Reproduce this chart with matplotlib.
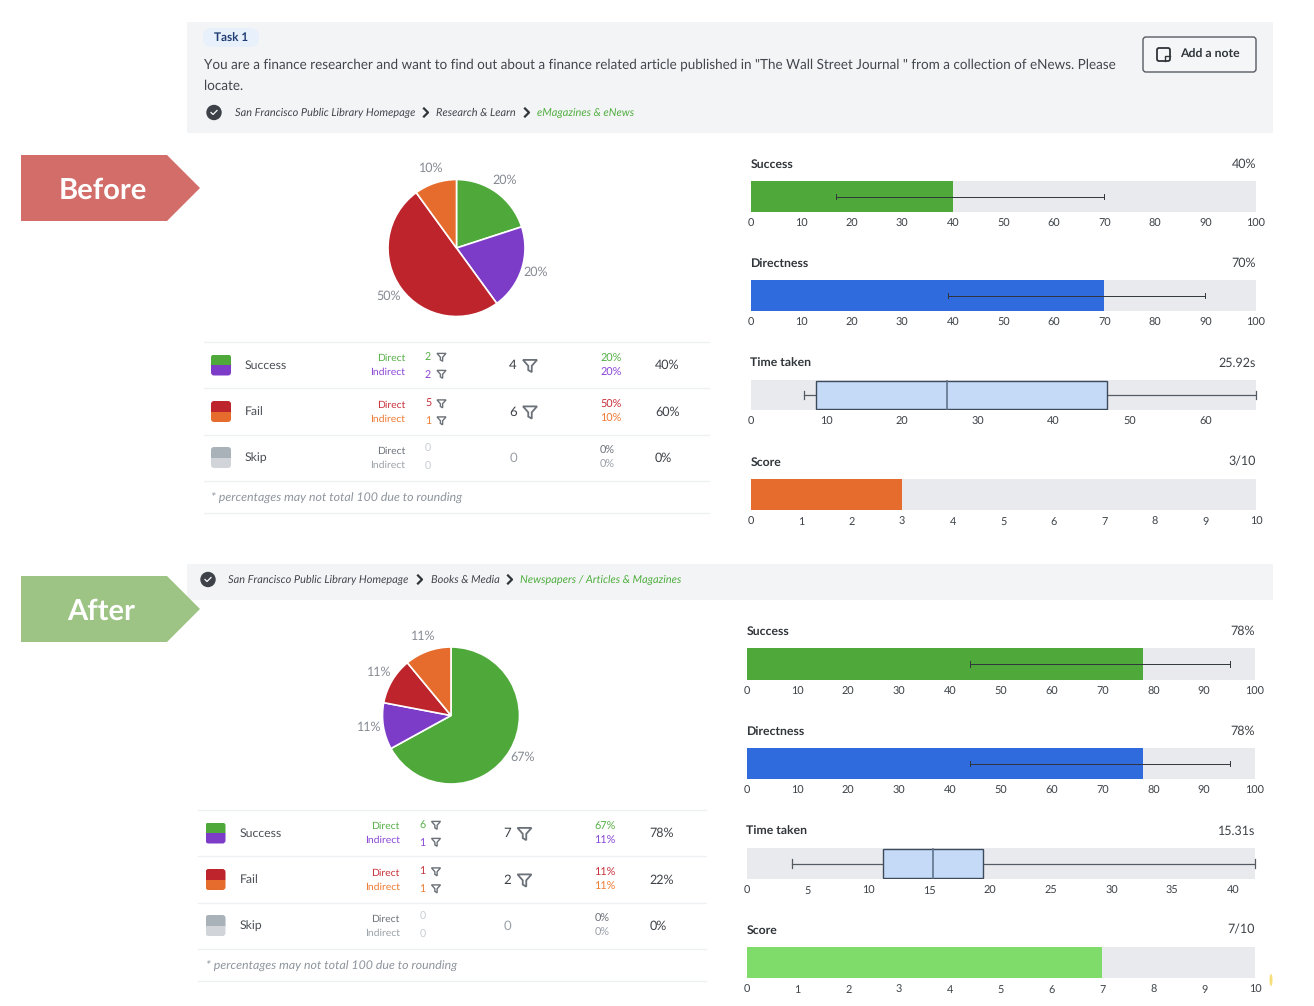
import matplotlib
matplotlib.use('Agg')
import matplotlib.pyplot as plt
from matplotlib.patches import FancyBboxPatch, Polygon, Rectangle, Circle, Ellipse

plt.rcParams['font.family'] = ['Lato', 'DejaVu Sans']
plt.rcParams['text.hinting'] = 'no_hinting'
plt.rcParams['text.hinting_factor'] = 8

W, H = 1314, 1006

# colours
GREEN = '#4fa93a'
PURPLE = '#7d3cc8'
RED = '#bd242b'
ORANGE = '#e56c2c'
BLUE = '#2f6bdc'
LIGHT_GREEN = '#7fdc6a'
TRACK = '#e9eaee'
BOX = '#c5daf7'
DARK = '#3c4248'
GREY = '#858b93'

# pies
pie_before_values = [20, 20, 50, 10]
pie_before_labels = ['20%', '20%', '50%', '10%']
pie_before_colors = [GREEN, PURPLE, RED, ORANGE]
pie_after_values = [67, 11, 11, 11]
pie_after_labels = ['67%', '11%', '11%', '11%']
pie_after_colors = [GREEN, PURPLE, RED, ORANGE]

# tables
row_names = ['Success', 'Fail', 'Skip']
before_direct = [2, 5, 0]
before_indirect = [2, 1, 0]
before_total = [4, 6, 0]
before_direct_pct = ['20%', '50%', '0%']
before_indirect_pct = ['20%', '10%', '0%']
before_total_pct = ['40%', '60%', '0%']
after_direct = [6, 1, 0]
after_indirect = [1, 1, 0]
after_total = [7, 2, 0]
after_direct_pct = ['67%', '11%', '0%']
after_indirect_pct = ['11%', '11%', '0%']
after_total_pct = ['78%', '22%', '0%']

# bar panels
before_success = 40
before_success_err = (17, 70)
before_directness = 70
before_directness_err = (39, 90)
before_score = 3
before_time = dict(low=7, q1=8.7, med=25.92, q3=47, high=66.7)
after_success = 78
after_success_err = (44, 95)
after_directness = 78
after_directness_err = (44, 95)
after_score = 7
after_time = dict(low=3.7, q1=11.2, med=15.31, q3=19.4, high=41.8)
pct_ticks = list(range(0, 101, 10))
score_ticks = list(range(0, 11))
before_time_ticks = [0, 10, 20, 30, 40, 50, 60]
after_time_ticks = [0, 5, 10, 15, 20, 25, 30, 35, 40]

fig = plt.figure(figsize=(W / 100, H / 100), dpi=100, facecolor='white')
bg = fig.add_axes([0, 0, 1, 1])
bg.set_xlim(0, W)
bg.set_ylim(H, 0)
bg.axis('off')


def px_axes(x0, y0, x1, y1):
    return fig.add_axes([x0 / W, 1 - y1 / H, (x1 - x0) / W, (y1 - y0) / H])


def rounded(x0, y0, x1, y1, r, **kw):
    p = FancyBboxPatch((x0 + r, y0 + r), x1 - x0 - 2 * r, y1 - y0 - 2 * r,
                       boxstyle=f'round,pad={r},rounding_size={r}', **kw)
    bg.add_patch(p)
    return p


def funnel(cx, cy, s, color='#6b7178'):
    # little filter icon, s is half of the width
    pts = [(cx - s, cy - s * 0.8), (cx + s, cy - s * 0.8), (cx + s * 0.25, cy + s * 0.05),
           (cx + s * 0.25, cy + s * 0.95), (cx - s * 0.25, cy + s * 0.65), (cx - s * 0.25, cy + s * 0.05)]
    bg.add_patch(Polygon(pts, closed=True, fill=False, ec=color, lw=1.3 if s > 6 else 1.0))


def chevron(x, y):
    bg.plot([x - 2, x + 2, x - 2], [y - 4, y, y + 4], color='#30353a', lw=1.6)


def check(cx, cy):
    bg.add_patch(Circle((cx, cy), 7, color=DARK))
    bg.plot([cx - 3, cx - 1, cx + 3], [cy, cy + 2, cy - 2], color='white', lw=0.9)


def arrow(y0, color, label, tx):
    y1 = y0 + 66
    bg.add_patch(Polygon([(21, y0), (167, y0), (200, y0 + 33), (167, y1), (21, y1)], color=color, lw=0))
    bg.text(tx, y0 + 35, label, color='white', fontsize=21, fontweight='bold', ha='center', va='center')


def draw_pie(cx, cy, values, labels, colors, label_pos):
    r = 68.5
    ax = px_axes(cx - r, cy - r, cx + r, cy + r)
    ax.pie(values, colors=colors, startangle=90, counterclock=False, radius=1,
           wedgeprops=dict(edgecolor='white', linewidth=1.2))
    ax.set_xlim(-1, 1)
    ax.set_ylim(-1, 1)
    for lab, (x, y) in zip(labels, label_pos):
        bg.text(x, y, lab, color=GREY, fontsize=9, ha='center', va='center')


def draw_table(dx, dy, direct, indirect, total, dpct, ipct, tpct, x0, x1, lines):
    for y in lines:
        bg.plot([x0, x1], [y, y], color='#eef0f3', lw=1)
    row_y = [365, 411.5, 457.5]
    swatch = [(GREEN, PURPLE), (RED, ORANGE), ('#a9b1b9', '#d1d5da')]
    dir_col = ['#56b046', '#c8303a', '#6b7178']
    ind_col = ['#8a45d6', '#ee7a32', '#9aa1a8']
    for i, name in enumerate(row_names):
        y = row_y[i] + dy
        clip = rounded(211 + dx, y - 10.5, 231 + dx, y + 10.5, 3, fc='none', ec='none')
        top = Rectangle((211 + dx, y - 10.5), 20, 10.5, color=swatch[i][0], lw=0)
        bot = Rectangle((211 + dx, y), 20, 10.5, color=swatch[i][1], lw=0)
        bg.add_patch(top)
        bg.add_patch(bot)
        top.set_clip_path(clip)
        bot.set_clip_path(clip)
        bg.text(245 + dx, y + 0.5, name, color='#4a4f55', fontsize=8.8, va='center')
        bg.text(405 + dx, y - 6.5, 'Direct', color=dir_col[i], fontsize=7.5, ha='right', va='center')
        bg.text(405 + dx, y + 7.5, 'Indirect', color=ind_col[i], fontsize=7.5, ha='right', va='center')
        empty = total[i] == 0
        c1 = '#c9cdd2' if empty else dir_col[i]
        c2 = '#c9cdd2' if empty else ind_col[i]
        bg.text(428 + dx, y - 8.5, str(direct[i]), color=c1, fontsize=7.7, ha='center', va='center')
        bg.text(428 + dx, y + 9.5, str(indirect[i]), color=c2, fontsize=7.7, ha='center', va='center')
        if not empty:
            funnel(441.5 + dx, y - 8, 4.5)
            funnel(441.5 + dx, y + 9, 4.5)
            funnel(530 + dx, y + 0.5, 7)
        bg.text(513 + dx, y + 0.5, str(total[i]), color='#9aa1a8' if empty else '#3c4248', fontsize=9.5,
                ha='center', va='center')
        bg.text(600 + dx, y - 6.5, dpct[i], color=dir_col[i], fontsize=7.8, va='center')
        bg.text(600 + dx, y + 7.5, ipct[i], color=ind_col[i], fontsize=7.8, va='center')
        bg.text(655 + dx, y + 0.5, tpct[i], color='#3c4248', fontsize=9, va='center')
    bg.text(211 + dx, 497.5 + dy, '* percentages may not total 100 due to rounding', color='#8e959d',
            fontsize=8.9, fontstyle='italic', va='center')


def panel_axes(x0, x1, y0, y1, title, value, xmax, ticks):
    ax = px_axes(x0, y0, x1, y1)
    ax.set_facecolor(TRACK)
    ax.set_xlim(0, xmax)
    ax.set_ylim(0, 1)
    ax.set_yticks([])
    ax.set_xticks(ticks)
    ax.set_xticklabels([str(t) for t in ticks])
    ax.tick_params(axis='x', length=0, pad=5, labelsize=7.8, labelcolor='#3c4248')
    for s in ax.spines.values():
        s.set_visible(False)
    bg.text(x0, y0 - 17, title, color='#30353a', fontsize=8.8, fontweight='bold', va='center')
    bg.text(x1, y0 - 17, value, color='#3c4248', fontsize=9, ha='right', va='center')
    return ax


def bar_panel(x0, x1, y0, y1, title, label, val, color, xmax, ticks, err=None):
    ax = panel_axes(x0, x1, y0, y1, title, label, xmax, ticks)
    ax.barh(0.5, val, height=1, color=color)
    if err:
        ax.plot(err, [0.5, 0.5], color='#30353a', lw=0.7)
        for e in err:
            ax.plot([e, e], [0.42, 0.58], color='#30353a', lw=0.7)


def box_panel(x0, x1, y0, y1, title, label, t, xmax, ticks):
    ax = panel_axes(x0, x1, y0, y1, title, label, xmax, ticks)
    ax.plot([t['low'], t['high']], [0.5, 0.5], color='#555b62', lw=0.9, zorder=1)
    for e in (t['low'], t['high']):
        ax.plot([e, e], [0.36, 0.64], color='#555b62', lw=0.9, clip_on=False)
    ax.barh(0.5, t['q3'] - t['q1'], left=t['q1'], height=0.96, color=BOX, edgecolor='#3c4a5c', lw=1, zorder=2)
    ax.plot([t['med'], t['med']], [0.02, 0.98], color='#5f7489', lw=1.2, zorder=3)


# --- top header ---
bg.add_patch(Rectangle((187, 22), 1086, 111, color='#f3f4f6', lw=0))
rounded(203, 28, 259, 47, 9, fc='#e8f0fb', ec='none')
bg.text(231, 38, 'Task 1', color='#1f3d73', fontsize=8.5, fontweight='bold', ha='center', va='center')
bg.text(204, 64.5, 'You are a finance researcher and want to find out about a finance related article published in '
        '"The Wall Street Journal " from a collection of eNews. Please', color='#41464c', fontsize=9.75, va='center')
bg.text(204, 85.5, 'locate.', color='#41464c', fontsize=9.75, va='center')
check(214, 112.5)
bg.text(235, 112.5, 'San Francisco Public Library Homepage', color='#41464c', fontsize=7.9, fontstyle='italic', va='center')
chevron(426, 112.5)
bg.text(436, 112.5, 'Research & Learn', color='#41464c', fontsize=7.9, fontstyle='italic', va='center')
chevron(527, 112.5)
bg.text(537, 112.5, 'eMagazines & eNews', color='#4fae3e', fontsize=7.9, fontstyle='italic', va='center')

# note button
rounded(1143, 37, 1256, 72, 3, fc='#f5f6f8', ec='#565c63', lw=1)
rounded(1157, 48, 1170, 61, 2, fc='none', ec='#30353a', lw=1.3)
bg.plot([1165, 1165, 1170], [61, 56, 56], color='#30353a', lw=1)
bg.text(1180, 54.5, 'Add a note', color='#30353a', fontsize=8.8, fontweight='bold', va='center')

arrow(155, '#d26d6a', 'Before', 103)

# --- before section ---
draw_pie(456.5, 248, pie_before_values, pie_before_labels, pie_before_colors,
         [(505, 180), (535.5, 272.5), (389, 296), (431, 168)])
draw_table(0, 0, before_direct, before_indirect, before_total, before_direct_pct, before_indirect_pct,
           before_total_pct, 204, 709, [342, 388, 435, 481, 513])

bar_panel(750.5, 1256, 181, 212, 'Success', f'{before_success}%', before_success, GREEN, 100, pct_ticks, before_success_err)
bar_panel(750.5, 1256, 280, 311, 'Directness', f'{before_directness}%', before_directness, BLUE, 100, pct_ticks, before_directness_err)
box_panel(750.5, 1256, 380, 410, 'Time taken', '25.92s', before_time, 66.7, before_time_ticks)
bar_panel(750.5, 1256, 479, 510, 'Score', f'{before_score}/10', before_score, ORANGE, 10, score_ticks)

# --- after section ---
bg.add_patch(Rectangle((187, 564), 1086, 36, color='#f3f4f6', lw=0))
check(208, 579.5)
bg.text(228, 579.5, 'San Francisco Public Library Homepage', color='#41464c', fontsize=7.9, fontstyle='italic', va='center')
chevron(420, 579.5)
bg.text(431, 579.5, 'Books & Media', color='#41464c', fontsize=7.9, fontstyle='italic', va='center')
chevron(510, 579.5)
bg.text(520, 579.5, 'Newspapers / Articles & Magazines', color='#4fae3e', fontsize=7.9, fontstyle='italic', va='center')

arrow(576, '#9dc484', 'After', 101)

draw_pie(451, 715.5, pie_after_values, pie_after_labels, pie_after_colors,
         [(523, 757), (369, 727), (379.5, 672), (423, 636)])
draw_table(-5.5, 468, after_direct, after_indirect, after_total, after_direct_pct, after_indirect_pct,
           after_total_pct, 198, 706, [810, 856, 903, 949, 981])

bar_panel(746.5, 1255, 648, 680, 'Success', f'{after_success}%', after_success, GREEN, 100, pct_ticks, after_success_err)
bar_panel(746.5, 1255, 748, 779, 'Directness', f'{after_directness}%', after_directness, BLUE, 100, pct_ticks, after_directness_err)
box_panel(746.5, 1255, 848, 879, 'Time taken', '15.31s', after_time, 41.8, after_time_ticks)
bar_panel(746.5, 1255, 947, 978, 'Score', f'{after_score}/10', after_score, LIGHT_GREEN, 10, score_ticks)

# yellow speck at the edge of the screenshot
bg.add_patch(Ellipse((1271, 980), 3, 12, color='#f7de7a', lw=0))

fig.savefig('out.png', dpi=100)
